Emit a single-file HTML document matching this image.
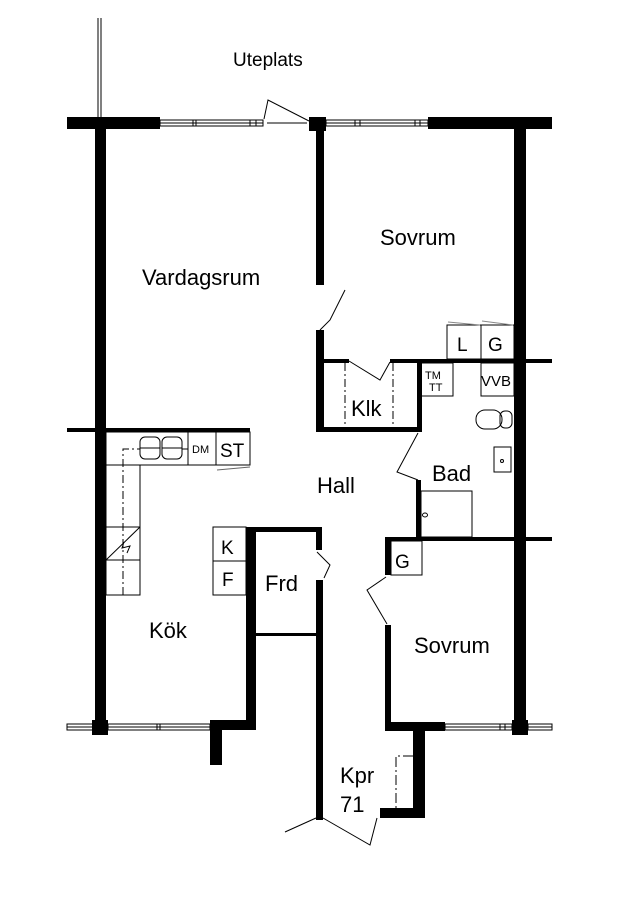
<!DOCTYPE html>
<html><head><meta charset="utf-8"><style>
html,body{margin:0;padding:0;background:#fff;}
svg{display:block;}
text{font-family:"Liberation Sans",sans-serif;fill:#000;}
</style></head><body>
<svg width="622" height="900" viewBox="0 0 622 900" xmlns="http://www.w3.org/2000/svg">
<g fill="#000">
<rect x="67" y="117" width="93" height="12"/>
<rect x="309" y="117" width="17" height="14"/>
<rect x="428" y="117" width="124" height="12"/>
<rect x="95" y="117" width="11" height="610"/>
<rect x="92" y="720" width="16" height="15"/>
<rect x="514" y="117" width="12" height="610"/>
<rect x="512" y="720" width="16" height="15"/>
<rect x="316" y="129" width="8" height="156"/>
<rect x="316" y="330" width="8" height="102"/>
<rect x="316" y="359" width="33" height="4"/>
<rect x="390" y="359" width="162" height="4"/>
<rect x="316" y="427" width="104" height="5"/>
<rect x="417" y="361" width="5" height="71"/>
<rect x="416" y="480" width="5" height="60"/>
<rect x="385" y="537" width="167" height="4"/>
<rect x="67" y="428" width="183" height="4"/>
<rect x="246" y="527" width="10" height="203"/>
<rect x="210" y="720" width="46" height="10"/>
<rect x="210" y="720" width="12" height="45"/>
<rect x="246" y="527" width="76" height="5"/>
<rect x="316" y="527" width="6" height="23"/>
<rect x="316" y="580" width="7" height="240"/>
<rect x="256" y="633" width="60" height="3"/>
<rect x="385" y="540" width="6" height="35"/>
<rect x="385" y="625" width="6" height="102"/>
<rect x="385" y="722" width="60" height="9"/>
<rect x="413" y="722" width="12" height="96"/>
<rect x="380" y="808" width="45" height="10"/>
</g>
<g fill="none" stroke="#000" stroke-width="1">
<line x1="98" y1="18" x2="98" y2="117"/><line x1="101" y1="18" x2="101" y2="117"/>
<rect x="160" y="120" width="103" height="6"/>
<line x1="160" y1="123" x2="263" y2="123"/>
<line x1="193" y1="120" x2="193" y2="126"/><line x1="196" y1="120" x2="196" y2="126"/>
<line x1="250" y1="120" x2="250" y2="126"/><line x1="256" y1="120" x2="256" y2="126"/>
<rect x="326" y="120" width="102" height="6"/>
<line x1="326" y1="123" x2="428" y2="123"/>
<line x1="355" y1="120" x2="355" y2="126"/><line x1="360" y1="120" x2="360" y2="126"/>
<line x1="415" y1="120" x2="415" y2="126"/><line x1="420" y1="120" x2="420" y2="126"/>
<line x1="267" y1="123" x2="307" y2="123"/>
<polyline points="264,119 268,100 309,121"/>
<rect x="67" y="724" width="28" height="6"/><line x1="67" y1="727" x2="95" y2="727"/>
<rect x="108" y="724" width="102" height="6"/><line x1="108" y1="727" x2="210" y2="727"/>
<line x1="157" y1="724" x2="157" y2="730"/><line x1="160" y1="724" x2="160" y2="730"/>
<rect x="445" y="724" width="67" height="6"/><line x1="445" y1="727" x2="512" y2="727"/>
<line x1="500" y1="724" x2="500" y2="730"/><line x1="505" y1="724" x2="505" y2="730"/>
<rect x="528" y="724" width="24" height="6"/><line x1="528" y1="727" x2="552" y2="727"/>
<polyline points="320,330 330,320 345,290"/>
<polyline points="349,361 380,380 390,362"/>
<polyline points="418,433 397,472 418,480"/>
<polyline points="317,552 330,565 324,578"/>
<polyline points="386,577 367,590 387,624"/>
<polyline points="316,818 285,832"/>
<polyline points="323,818 370,845 377,818"/>
<line x1="345" y1="363" x2="345" y2="427" stroke-dasharray="8,3,2,3"/>
<line x1="393" y1="363" x2="393" y2="427" stroke-dasharray="8,3,2,3"/>
<rect x="420" y="363" width="33" height="33"/>
<rect x="447" y="325" width="34" height="34"/>
<rect x="481" y="325" width="33" height="34"/>
<rect x="481" y="363" width="33" height="33"/>
<line x1="448" y1="322" x2="480" y2="325" stroke="#888"/>
<line x1="482" y1="321" x2="513" y2="325" stroke="#888"/>
<rect x="476" y="410" width="26" height="19" rx="9"/>
<rect x="500" y="411" width="12" height="17" rx="5"/>
<rect x="494" y="447" width="17" height="25"/>
<ellipse cx="502" cy="461" rx="1.5" ry="1.5"/>
<rect x="421" y="491" width="51" height="46"/>
<ellipse cx="425" cy="515" rx="2.5" ry="2"/>
<rect x="391" y="541" width="31" height="34"/>
<rect x="106" y="432" width="144" height="33"/>
<line x1="188" y1="432" x2="188" y2="465"/>
<line x1="216" y1="432" x2="216" y2="465"/>
<line x1="250" y1="432" x2="250" y2="465"/>
<rect x="106" y="465" width="34" height="130"/>
<line x1="106" y1="560" x2="140" y2="560"/>
<line x1="106" y1="527" x2="140" y2="527"/>
<line x1="106" y1="560" x2="140" y2="527"/>
<polyline points="124,542 122,548 130,546 127,553" />
<rect x="140" y="437" width="20" height="22" rx="5"/>
<rect x="162" y="437" width="20" height="22" rx="5"/>
<line x1="140" y1="448" x2="160" y2="448"/><line x1="162" y1="448" x2="182" y2="448"/>
<polyline points="123,595 123,449 140,449" stroke-dasharray="8,3,2,3"/>
<line x1="182" y1="449" x2="188" y2="449"/>
<line x1="217" y1="470" x2="250" y2="467" stroke="#666"/>
<rect x="213" y="527" width="33" height="34"/>
<rect x="213" y="561" width="33" height="34"/>
<polyline points="413,756 396,756 396,808" stroke-dasharray="10,3,2,3"/>
</g>
<g font-size="22">
<text x="233" y="66" font-size="19">Uteplats</text>
<text x="380" y="245">Sovrum</text>
<text x="142" y="285">Vardagsrum</text>
<text x="351" y="416">Klk</text>
<text x="317" y="493">Hall</text>
<text x="432" y="481">Bad</text>
<text x="265" y="591">Frd</text>
<text x="149" y="638">Kök</text>
<text x="414" y="653">Sovrum</text>
<text x="340" y="783">Kpr</text>
<text x="340" y="812">71</text>
<text x="457" y="351" font-size="19">L</text>
<text x="488" y="351" font-size="19">G</text>
<text x="395" y="568" font-size="19">G</text>
<text x="221" y="554" font-size="19">K</text>
<text x="222" y="586" font-size="19">F</text>
<text x="220" y="457" font-size="19">ST</text>
<text x="192" y="453" font-size="11">DM</text>
<text x="481" y="386" font-size="15">VVB</text>
<text x="425" y="379" font-size="11">TM</text>
<text x="429" y="391" font-size="11">TT</text>
</g>
</svg>
</body></html>
